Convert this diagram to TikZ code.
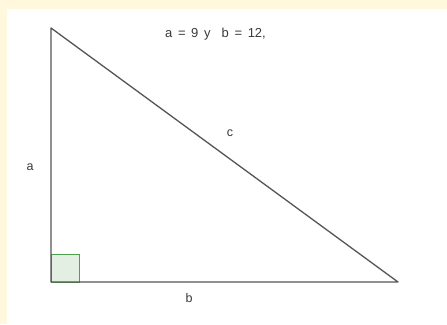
\documentclass[tikz,border=0pt]{standalone}
\usepackage{fontspec}
\setmainfont{Liberation Sans}
\definecolor{cream}{HTML}{FFF8DC}
\definecolor{edge}{HTML}{555555}
\definecolor{txt}{HTML}{3A3A3A}
\definecolor{sqfill}{HTML}{E2EFE2}
\definecolor{sqline}{HTML}{4FA04F}
\begin{document}
\begin{tikzpicture}[x=1pt,y=-1pt,
  side/.style={draw=edge,line width=1.3pt,line join=round},
  lbl/.style={text=txt,font=\fontsize{12.5}{14}\selectfont,inner sep=0pt},
  rightmark/.style={draw=sqline,fill=sqfill,line width=1pt}]
\useasboundingbox (0,0) rectangle (447,324);
\fill[cream] (0,0) rectangle (447,324);
\fill[white] (7,9) rectangle (447,324);
\coordinate (A) at (51,28);
\coordinate (C) at (51,282);
\coordinate (B) at (398,282);
\draw[rightmark] (51,254) rectangle (79,282);
\draw[side] (A) -- (C) -- (B) -- cycle;
\node[lbl] (ta) at (30,167) {a};
\node[lbl] (tb) at (189,298) {b};
\node[lbl] (tc) at (230,133) {c};
\node[lbl,font=\fontsize{13}{15}\selectfont,anchor=west] (tt) at (165,34) {\spaceskip=5.6pt a = 9 y \ b = 12,};
\end{tikzpicture}
\end{document}
